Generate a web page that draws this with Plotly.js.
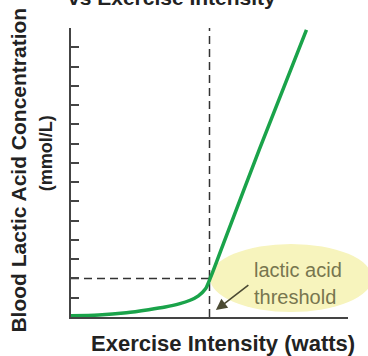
<!DOCTYPE html>
<html>
<head>
<meta charset="utf-8">
<script src="https://cdn.plot.ly/plotly-3.0.1.min.js"></script>
<style>html,body{margin:0;padding:0;background:#fff;}#chart{width:368px;height:356px;}</style>
</head>
<body>
<div id="chart"></div>
<script>
// Exercise intensity (arbitrary units, 0-100) and blood lactate (mmol/L, tick units)
var intensity = [0, 10, 20, 28, 34, 39, 43, 46, 48.5, 50.5, 55, 68, 85];
var lactate   = [0.06, 0.1, 0.22, 0.38, 0.52, 0.68, 0.87, 1.1, 1.45, 2.1, 3.8, 8.7, 14.9];
var thresholdX = 50;
var thresholdY = 2;
var yTicks = [0,1,2,3,4,5,6,7,8,9,10,11,12,13,14,15];

var titleTop = 'vs Exercise Intensity';
var yTitle1 = 'Blood Lactic Acid Concentration';
var yTitle2 = '(mmol/L)';
var xTitle = 'Exercise Intensity (watts)';
var label1 = 'lactic acid';
var label2 = 'threshold';

var boldFont = 'Liberation Sans, Arial, sans-serif';

var trace = {
  x: intensity, y: lactate, type: 'scatter', mode: 'lines',
  line: {color: '#1aa34a', width: 3.5, shape: 'spline', smoothing: 0.8},
  hoverinfo: 'skip', showlegend: false
};

var layout = {
  width: 368, height: 356,
  margin: {l: 71, r: 20, t: 28, b: 39},
  paper_bgcolor: '#ffffff', plot_bgcolor: '#ffffff',
  showlegend: false,
  xaxis: {
    range: [0, 100], showgrid: false, zeroline: false, showline: true,
    linecolor: '#444', linewidth: 2, ticks: '', showticklabels: false, fixedrange: true
  },
  yaxis: {
    range: [0, 15], showgrid: false, zeroline: false, showline: true,
    linecolor: '#444', linewidth: 2, ticks: 'inside', ticklen: 8, tickwidth: 2,
    tickcolor: '#444', tickvals: yTicks, showticklabels: false, fixedrange: true
  },
  shapes: [
    {type: 'circle', xref: 'paper', yref: 'paper', x0: 0.502, x1: 1.087, y0: 0.017, y1: 0.253,
     fillcolor: '#f7f4bd', line: {width: 0}, layer: 'below'},
    {type: 'line', xref: 'x', yref: 'y', x0: 0, x1: thresholdX, y0: thresholdY, y1: thresholdY,
     line: {color: '#333', width: 1.5, dash: '8px,5px'}, layer: 'below'},
    {type: 'line', xref: 'x', yref: 'y', x0: thresholdX, x1: thresholdX, y0: 0, y1: 15,
     line: {color: '#333', width: 1.5, dash: '8px,5px'}, layer: 'below'}
  ]
};
layout.annotations = [
  {text: '<b>' + titleTop + '</b>', xref: 'paper', yref: 'paper', x: 0.365, y: 1.058,
   xanchor: 'center', yanchor: 'bottom', showarrow: false,
   font: {family: boldFont, size: 21, color: '#222'}},
  {text: '<b>' + yTitle1 + '</b>', xref: 'paper', yref: 'paper', x: -0.191, y: 0.507,
   xanchor: 'center', yanchor: 'middle', textangle: -90, showarrow: false,
   font: {family: boldFont, size: 21, color: '#222'}},
  {text: '<b>' + yTitle2 + '</b>', xref: 'paper', yref: 'paper', x: -0.090, y: 0.567,
   xanchor: 'center', yanchor: 'middle', textangle: -90, showarrow: false,
   font: {family: boldFont, size: 18, color: '#222'}},
  {text: '<b>' + xTitle + '</b>', xref: 'paper', yref: 'paper', x: 0.549, y: -0.090,
   xanchor: 'center', yanchor: 'middle', showarrow: false,
   font: {family: boldFont, size: 22, color: '#222'}},
  {text: label1, xref: 'paper', yref: 'paper', x: 0.819, y: 0.163,
   xanchor: 'center', yanchor: 'middle', showarrow: false,
   font: {family: 'Liberation Sans, Arial, sans-serif', size: 20, color: '#77764f'}},
  {text: label2, xref: 'paper', yref: 'paper', x: 0.809, y: 0.069,
   xanchor: 'center', yanchor: 'middle', showarrow: false,
   font: {family: 'Liberation Sans, Arial, sans-serif', size: 20, color: '#77764f'}},
  {text: '', xref: 'x', yref: 'y', x: 52.3, y: 0.36, ax: 34, ay: -26,
   showarrow: true, arrowhead: 2, arrowsize: 1.4, arrowwidth: 1.6, arrowcolor: '#4b4a33'}
];

Plotly.newPlot('chart', [trace], layout, {displayModeBar: false, staticPlot: true});
</script>
</body>
</html>
